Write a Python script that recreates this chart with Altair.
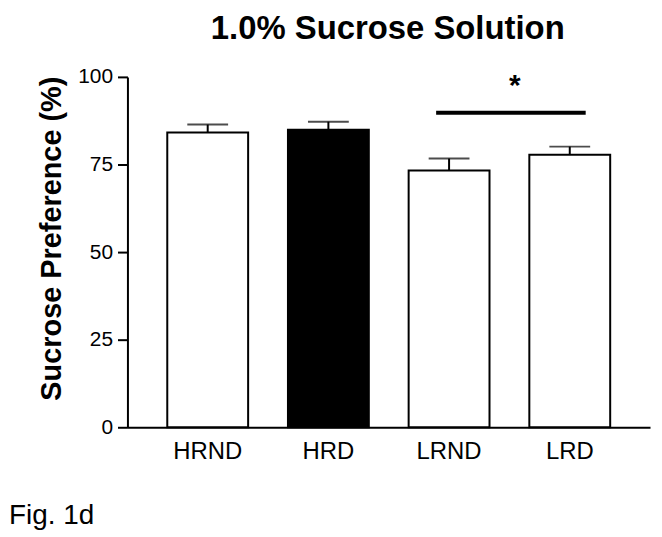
import altair as alt
import pandas as pd

groups = ["HRND", "HRD", "LRND", "LRD"]
means = [84.1, 84.9, 73.3, 77.8]
sems = [2.3, 2.3, 3.4, 2.3]
fills = ["white", "black", "white", "white"]
y_ticks = [0, 25, 50, 75, 100]
sig_pair = ["LRND", "LRD"]
sig_y = 89.8
title_text = "1.0% Sucrose Solution"
y_title = "Sucrose Preference (%)"
fig_label = "Fig. 1d"

FONT = "Liberation Sans"

df = pd.DataFrame({"group": groups, "mean": means, "sem": sems})
df["upper"] = df["mean"] + df["sem"]

x_enc = alt.X(
    "group:N",
    sort=groups,
    scale=alt.Scale(domain=groups, paddingInner=0.33, paddingOuter=0.33),
    axis=alt.Axis(
        title=None, labelAngle=0, labelFontSize=24, labelFont=FONT, labelColor="black",
        ticks=False, tickSize=0, domainColor="black", domainWidth=2, labelPadding=12,
        grid=False,
    ),
)
y_scale = alt.Scale(domain=[0, 100], nice=False, zero=True)

base = alt.Chart(df)

bars = base.mark_bar(stroke="black", strokeWidth=2).encode(
    x=x_enc,
    y=alt.Y(
        "mean:Q",
        scale=y_scale,
        axis=alt.Axis(
            values=y_ticks, title=y_title, titleFontSize=29, titleFontWeight="bold",
            titleFont=FONT, titleColor="black", titleAngle=270, titleX=-67, titleY=162,
            titleAlign="center", titleBaseline="alphabetic",
            labelFontSize=21, labelFont=FONT, labelColor="black", labelPadding=5,
            tickSize=10, tickWidth=2, tickColor="black", domainColor="black",
            domainWidth=2, grid=False,
        ),
    ),
    fill=alt.Color("group:N", scale=alt.Scale(domain=groups, range=fills), legend=None),
)

err = base.mark_rule(color="black", strokeWidth=2).encode(
    x=alt.X("group:N", sort=groups),
    y=alt.Y("mean:Q", scale=y_scale),
    y2="upper:Q",
)

caps = base.mark_tick(color="black", thickness=2, size=41, orient="horizontal").encode(
    x=alt.X("group:N", sort=groups),
    y=alt.Y("upper:Q", scale=y_scale),
)

sig_df = pd.DataFrame({"a": [sig_pair[0]], "b": [sig_pair[1]], "y": [sig_y], "t": ["*"]})
sig_line = alt.Chart(sig_df).mark_rule(
    color="black", strokeWidth=4, xOffset=-13, x2Offset=16
).encode(
    x=alt.X("a:N", sort=groups),
    x2="b:N",
    y=alt.Y("y:Q", scale=y_scale),
)
star = alt.Chart(sig_df).mark_text(
    font=FONT, fontSize=30, fontWeight="bold", color="black", dx=66, dy=-18,
    baseline="alphabetic", align="center",
).encode(
    x=alt.X("a:N", sort=groups),
    y=alt.Y("y:Q", scale=y_scale),
    text="t:N",
)

title_df = pd.DataFrame({"t": [title_text]})
title = alt.Chart(title_df).mark_text(
    font=FONT, fontSize=33, fontWeight="bold", color="black",
    baseline="alphabetic", align="center",
).encode(x=alt.value(261.5), y=alt.value(-38), text="t:N")

fig_df = pd.DataFrame({"t": [fig_label]})
fig = alt.Chart(fig_df).mark_text(
    font=FONT, fontSize=28, color="black", baseline="alphabetic", align="left",
).encode(x=alt.value(-119), y=alt.value(449), text="t:N")

chart = (
    alt.layer(bars, err, caps, sig_line, star, title, fig)
    .properties(
        width=525, height=352,
        autosize=alt.AutoSizeParams(type="none"),
        padding={"left": 120, "top": 68, "right": 4, "bottom": 106},
    )
    .configure_view(stroke=None)
)

chart.save("out.html", embed_options={"renderer": "svg", "actions": False})
